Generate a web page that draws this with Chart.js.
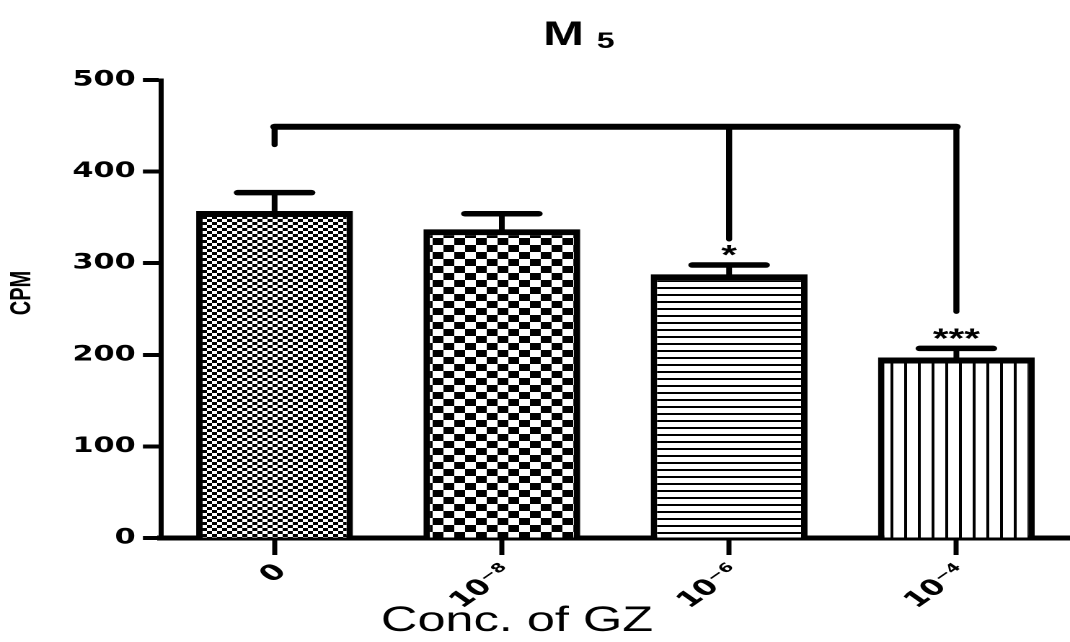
<!DOCTYPE html>
<html><head><meta charset="utf-8">
<script src="https://cdn.jsdelivr.net/npm/chart.js@4.4.0/dist/chart.umd.min.js"></script>
<style>html,body{margin:0;padding:0;background:#fff;overflow:hidden}</style></head>
<body><canvas id="c" width="742" height="642" style="display:block;width:1070px;height:642px"></canvas>
<script>
// ---- data ----
const categories = ['0', '10\u207B\u2078', '10\u207B\u2076', '10\u207B\u2074'];
const cpmMean = [357, 337, 288, 197];
const cpmSEM = [20, 17, 10, 10];
const significance = ['', '', '*', '***'];
const bracketLevel = 449;
const bracketDrops = [429, null, 326, 247];
const yTicks = [0, 100, 200, 300, 400, 500];
const patternKinds = ['fineCheck', 'coarseCheck', 'hLines', 'vLines'];

const canvas = document.getElementById('c');
const ctx = canvas.getContext('2d');

function makePattern(kind) {
  const R = 2;
  let w, h, draw;
  if (kind === 'fineCheck') { w = 7; h = 6; draw = g => { g.fillRect(0, 0, 3.5, 3); g.fillRect(3.5, 3, 3.5, 3); }; }
  else if (kind === 'coarseCheck') { w = 15; h = 14; draw = g => { g.fillRect(0, 0, 7.5, 7); g.fillRect(7.5, 7, 7.5, 7); }; }
  else if (kind === 'hLines') { w = 4; h = 7; draw = g => { g.fillRect(0, 0, 4, 2); }; }
  else { w = 9.5; h = 4; draw = g => { g.fillRect(0, 0, 2, 4); }; }
  const c = document.createElement('canvas');
  c.width = Math.round(w * R); c.height = Math.round(h * R);
  const g = c.getContext('2d');
  g.fillStyle = '#fff'; g.fillRect(0, 0, c.width, c.height);
  g.scale(R, R); g.fillStyle = '#000'; draw(g);
  const p = ctx.createPattern(c, 'repeat');
  p.setTransform(new DOMMatrix().scale(1 / R));
  return p;
}

const annot = {
  id: 'annot',
  afterDraw(chart) {
    const { ctx, scales: { x, y } } = chart;
    const meta = chart.getDatasetMeta(0);
    ctx.save();
    ctx.strokeStyle = '#000'; ctx.fillStyle = '#000';
    ctx.lineCap = 'round';
    // error bars
    meta.data.forEach((bar, i) => {
      const cx = bar.x, w = bar.width;
      const yTop = y.getPixelForValue(cpmMean[i] + cpmSEM[i]);
      const yBar = y.getPixelForValue(cpmMean[i]);
      ctx.lineWidth = 4;
      ctx.beginPath(); ctx.moveTo(cx, yBar); ctx.lineTo(cx, yTop); ctx.stroke();
      ctx.lineWidth = 5.5;
      ctx.beginPath(); ctx.moveTo(cx - w * 0.235, yTop); ctx.lineTo(cx + w * 0.235, yTop); ctx.stroke();
      if (significance[i]) {
        ctx.font = 'bold 28px "Liberation Sans"';
        ctx.textAlign = 'center'; ctx.textBaseline = 'alphabetic';
        ctx.fillText(significance[i], cx, yTop - 1);
      }
    });
    // significance bracket
    const yb = y.getPixelForValue(bracketLevel);
    const drops = bracketDrops.map((v, i) => v == null ? null : { x: x.getPixelForValue(i), y: y.getPixelForValue(v) }).filter(Boolean);
    ctx.lineWidth = 6;
    ctx.beginPath(); ctx.moveTo(drops[0].x, yb); ctx.lineTo(drops[drops.length - 1].x, yb); ctx.stroke();
    ctx.lineWidth = 4.2;
    drops.forEach(d => { ctx.beginPath(); ctx.moveTo(d.x, yb); ctx.lineTo(d.x, d.y); ctx.stroke(); });
    // title
    ctx.textAlign = 'left'; ctx.textBaseline = 'alphabetic';
    ctx.font = 'bold 34px "Liberation Sans"';
    const mx = 376.6;
    ctx.fillText('M', mx, 45);
    const mw = ctx.measureText('M').width;
    ctx.font = 'bold 22px "Liberation Sans"';
    ctx.fillText('5', mx + mw + 9, 48);
    // y title
    ctx.save();
    ctx.translate(15.5, 293); ctx.rotate(-Math.PI / 2);
    ctx.textAlign = 'center'; ctx.textBaseline = 'middle';
    ctx.font = 'bold 20px "Liberation Sans"';
    ctx.fillText('CPM', 0, 0);
    ctx.restore();
    // x title
    ctx.textAlign = 'center'; ctx.textBaseline = 'alphabetic';
    ctx.font = '35px "Liberation Sans"';
    ctx.fillText('Conc. of GZ', 358.5, 631);
    ctx.restore();
  }
};

new Chart(ctx, {
  type: 'bar',
  data: {
    labels: categories,
    datasets: [{
      data: cpmMean,
      backgroundColor: patternKinds.map(makePattern),
      borderColor: '#000',
      borderWidth: { top: 6, left: 4.5, right: 4.5, bottom: 0 },
      borderSkipped: 'start',
      barPercentage: 0.69,
      categoryPercentage: 1
    }]
  },
  options: {
    responsive: false, animation: false, devicePixelRatio: 2, events: [],
    layout: { padding: { top: 80, right: 0, left: 0, bottom: 0 } },
    plugins: { legend: { display: false }, tooltip: { enabled: false }, title: { display: false } },
    scales: {
      x: {
        offset: true, z: 1,
        grid: { display: true, offset: false, drawOnChartArea: false, drawTicks: true, tickLength: 17, tickWidth: 3.5, tickColor: '#000' },
        border: { display: true, color: '#000', width: 5 },
        ticks: { color: '#000', font: { family: 'DejaVu Sans', weight: 'bold', size: 22 }, minRotation: 45, maxRotation: 45, padding: 4, labelOffset: 5, autoSkip: false },
        afterFit: s => { s.height = 104; }
      },
      y: {
        min: 0, max: 500,
        afterBuildTicks: s => { s.ticks = yTicks.map(v => ({ value: v })); },
        grid: { display: true, drawOnChartArea: false, drawTicks: true, tickLength: 12.5, tickWidth: 4, tickColor: '#000' },
        border: { display: true, color: '#000', width: 3.5 },
        ticks: { color: '#000', font: { family: 'DejaVu Sans', weight: 'bold', size: 21 }, padding: 5 },
        afterFit: s => { s.width = 111.6; }
      }
    }
  },
  plugins: [annot]
});
</script>
</body></html>
